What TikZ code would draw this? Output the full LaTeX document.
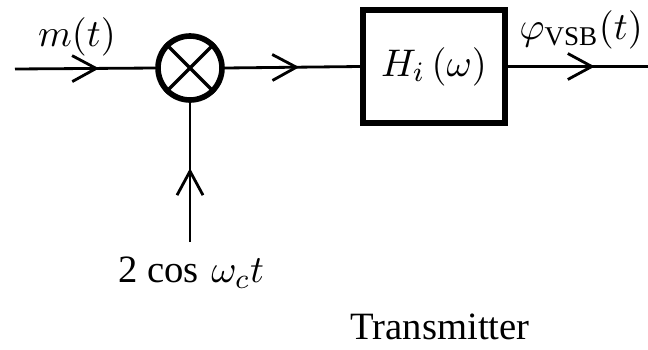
\documentclass[tikz,border=0pt]{standalone}
\usepackage{fontspec}
\setmainfont{Liberation Serif}
\usetikzlibrary{positioning,arrows.meta,decorations.markings}

\begin{document}
\begin{tikzpicture}[
  font=\fontsize{11}{13}\selectfont,
  sig/.style={line width=0.8pt},
  midarr/.style={sig, postaction={decorate}, decoration={markings,
      mark=at position #1 with {\arrow{Straight Barb[length=2.4mm,width=2.6mm,line width=0.8pt]}}}},
  mixer/.style={circle, draw, line width=1.6pt, minimum size=6.4mm, inner sep=0pt},
  filterbox/.style={draw, line width=1.6pt, minimum width=14.2mm, minimum height=11.3mm, inner sep=0pt},
  lab/.style={inner sep=1pt}
]
\useasboundingbox (0,0) rectangle (6.48,-3.49);
% ----- blocks -----
\coordinate (in)  at (0.15,-0.69);
\node[mixer] (mix) at (1.90,-0.68) {};
\node[filterbox] (hf) at (4.34,-0.665) {$H_i\,(\omega)$};
\coordinate (out) at (6.48,-0.665);
\coordinate (lo)  at (1.90,-2.42);
\draw[line width=1pt] (mix.north west) -- (mix.south east);
\draw[line width=1pt] (mix.north east) -- (mix.south west);
% ----- signal path -----
\draw[midarr=0.6]  (in) -- (mix.west);
\draw[midarr=0.55] (mix.east) -- (hf.west);
\draw[midarr=0.62] (hf.east) -- (out);
\draw[midarr=0.53] (lo) -- (mix.south);
% ----- labels -----
\node[lab] (lm)  at (0.77,-0.37) {$m(t)$};
\node[lab, anchor=east] (lphi) at (6.47,-0.30) {$\varphi_{\mathrm{VSB}}(t)$};
\node[lab] (lc)  at (1.91,-2.73) {2 $\cos\,\omega_c t$};
\node[lab] (ltx) at (4.40,-3.27) {Transmitter};
\end{tikzpicture}
\end{document}
